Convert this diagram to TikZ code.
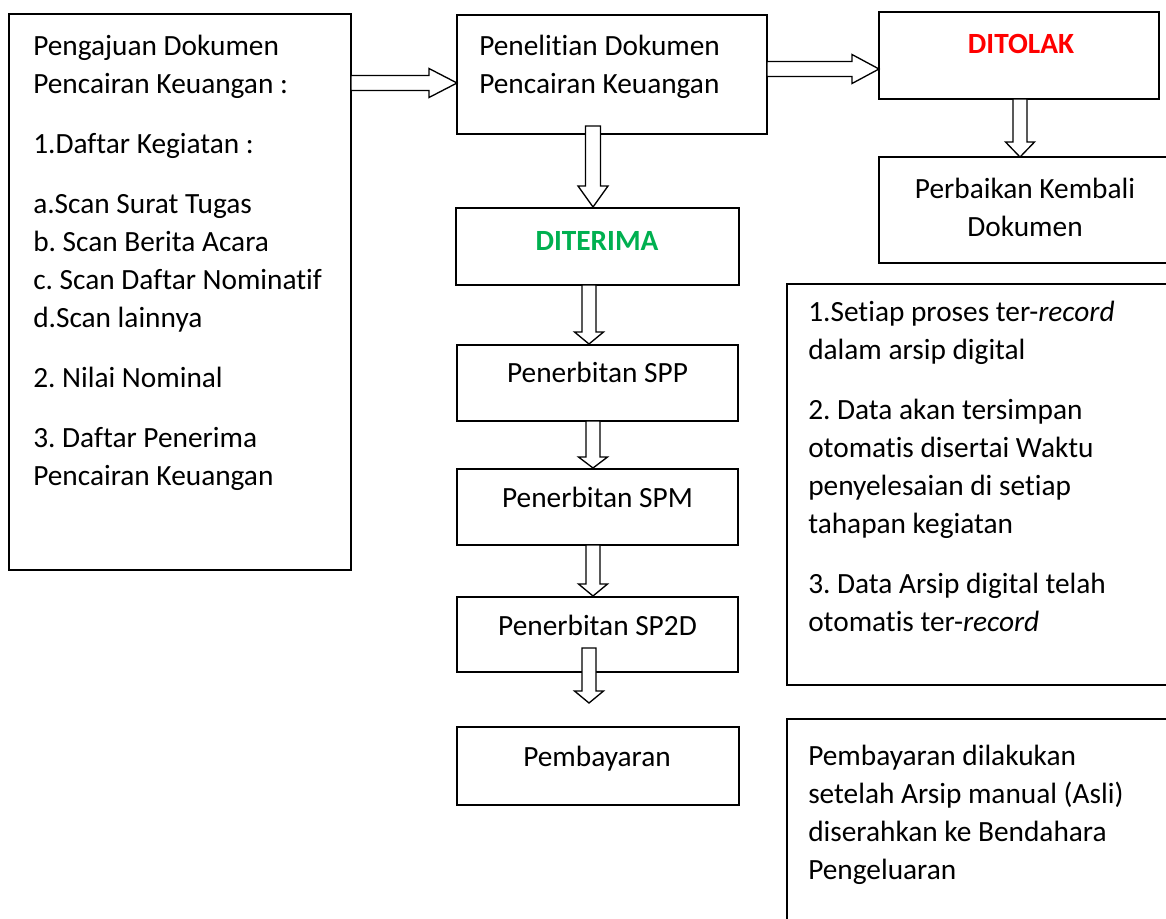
\documentclass[tikz,border=0pt]{standalone}
\usepackage{fontspec}
\setmainfont{Carlito}[Ligatures=NoCommon]
\frenchspacing
\usetikzlibrary{calc,fit}
\definecolor{rejectred}{HTML}{FF0000}
\definecolor{acceptgreen}{HTML}{00B050}

% Hollow block arrow pointing down: #1 tail, #2 tip (same x),
% #3 shaft half-width, #4 head half-width, #5 head length
\newcommand\downblock[5]{%
  \draw[blk] ($(#1)+(-#3,0)$) -- ($(#2)+(-#3,-#5)$) -- ($(#2)+(-#4,-#5)$)
    -- (#2) -- ($(#2)+(#4,-#5)$) -- ($(#2)+(#3,-#5)$) -- ($(#1)+(#3,0)$) -- cycle;}
% Hollow block arrow pointing right: same arguments
\newcommand\rightblock[5]{%
  \draw[blk] ($(#1)+(0,-#3)$) -- ($(#2)+(-#5,-#3)$) -- ($(#2)+(-#5,-#4)$)
    -- (#2) -- ($(#2)+(-#5,#4)$) -- ($(#2)+(-#5,#3)$) -- ($(#1)+(0,#3)$) -- cycle;}

\begin{document}
\begin{tikzpicture}[x=0.75pt,y=-0.75pt,
  box/.style={draw, line width=1.2pt, inner sep=0pt, outer sep=0pt},
  blk/.style={draw, fill=white, line width=1pt, line join=miter},
  txt/.style={inner sep=0pt, font=\fontsize{22}{28.5}\selectfont},
]
\clip (0,0) rectangle (1166,918);
\fill[white] (0,0) rectangle (1166,918);

% boxes
\node[box, fit={(9,14) (351,570)}] (lbox) {};
\node[box, fit={(457,15) (767,134)}] (pen) {};
\node[box, fit={(879,12) (1159,99)}] (tol) {};
\node[box, fit={(879,157) (1180,263)}] (fix) {};
\node[box, fit={(456,208) (739,285)}] (ter) {};
\node[box, fit={(457,345) (738,421)}] (spp) {};
\node[box, fit={(457,469) (738,545)}] (spm) {};
\node[box, fit={(457,597) (738,672)}] (sptwod) {};
\node[box, fit={(457,727) (739,805)}] (bayar) {};
\node[box, fit={(787,284) (1180,685)}] (noteA) {};
\node[box, fit={(787,719) (1180,940)}] (noteB) {};

% arrows
\coordinate (a1t) at ($(lbox.north east)+(0,69)$);
\coordinate (a1h) at (a1t -| pen.west);
\rightblock{a1t}{a1h}{7.5}{14.5}{28}

\coordinate (a2h) at ($(tol.north west)+(0,57)$);
\coordinate (a2t) at (a2h -| pen.east);
\rightblock{a2t}{a2h}{7.5}{14.5}{27}

\coordinate (a3h) at ($(ter.north)+(-4.5,-1)$);
\coordinate (a3t) at ($(a3h |- pen.south)+(0,-8)$);
\downblock{a3t}{a3h}{7.5}{15}{21}

\coordinate (a4h) at ($(fix.north west)+(141,0)$);
\coordinate (a4t) at (a4h |- tol.south);
\downblock{a4t}{a4h}{7}{14.5}{15}

\coordinate (a5h) at ($(spp.north)+(-8.5,-1)$);
\coordinate (a5t) at (a5h |- ter.south);
\downblock{a5t}{a5h}{7}{14.5}{12}

\coordinate (a6h) at ($(spm.north)+(-4.5,-1)$);
\coordinate (a6t) at (a6h |- spp.south);
\downblock{a6t}{a6h}{7}{14.5}{11}

\coordinate (a7h) at ($(sptwod.north)+(-4.5,-1)$);
\coordinate (a7t) at (a7h |- spm.south);
\downblock{a7t}{a7h}{7}{14.5}{12}

\coordinate (a8t) at ($(sptwod.south)+(-8.5,-24)$);
\coordinate (a8h) at ($(a8t)+(0,55)$);
\downblock{a8t}{a8h}{7}{14.5}{12}

% texts
\node[txt, anchor=base west] (lboxtext) at (33,55) {\begin{tabular}[t]{@{}l@{}}
Pengajuan Dokumen\\
Pencairan Keuangan :\\[16.5pt]
1.Daftar Kegiatan :\\[16.5pt]
a.Scan Surat Tugas\\
b. Scan Berita Acara\\
c. Scan Daftar Nominatif\\
d.Scan lainnya\\[16.5pt]
2. Nilai Nominal\\[16.5pt]
3. Daftar Penerima\\
Pencairan Keuangan
\end{tabular}};

\node[txt, anchor=base west] (pentext) at (479,55) {\begin{tabular}[t]{@{}l@{}}
Penelitian Dokumen\\
Pencairan Keuangan
\end{tabular}};

\node[txt, anchor=base, text=rejectred, font=\fontsize{22}{28.5}\selectfont\bfseries] (toltext) at (1021,53) {DITOLAK};

\node[txt, anchor=base] (fixtext) at (1025,198) {\begin{tabular}[t]{@{}c@{}}
Perbaikan Kembali\\
Dokumen
\end{tabular}};

\node[txt, anchor=base, text=acceptgreen, font=\fontsize{22}{28.5}\selectfont\bfseries] (tertext) at (597,250) {DITERIMA};
\node[txt, anchor=base] (spptext) at (597.5,382) {Penerbitan SPP};
\node[txt, anchor=base] (spmtext) at (597.5,507) {Penerbitan SPM};
\node[txt, anchor=base] (sptwodtext) at (597.5,635) {Penerbitan SP2D};
\node[txt, anchor=base] (bayartext) at (597,766) {Pembayaran};

\node[txt, anchor=base west] (noteAtext) at (808,321) {\begin{tabular}[t]{@{}l@{}}
1.Setiap proses ter-\textit{record}\\
dalam arsip digital\\[16.5pt]
2. Data akan tersimpan\\
otomatis disertai Waktu\\
penyelesaian di setiap\\
tahapan kegiatan\\[16.5pt]
3. Data Arsip digital telah\\
otomatis ter-\textit{record}
\end{tabular}};

\node[txt, anchor=base west] (noteBtext) at (808,765) {\begin{tabular}[t]{@{}l@{}}
Pembayaran dilakukan\\
setelah Arsip manual (Asli)\\
diserahkan ke Bendahara\\
Pengeluaran
\end{tabular}};
\end{tikzpicture}
\end{document}
